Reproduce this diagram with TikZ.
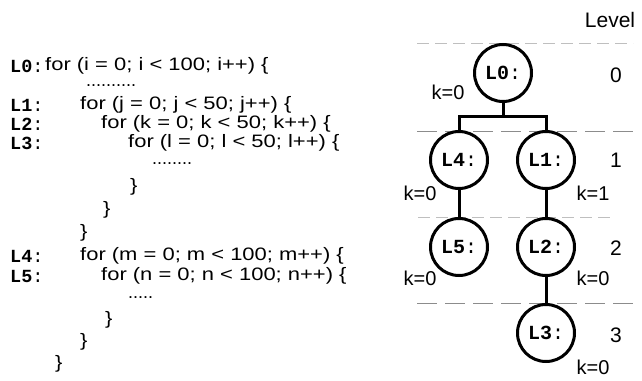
\documentclass[tikz,border=0pt]{standalone}
\usepackage{fontspec}
\setmainfont{Liberation Sans}
\setmonofont{Liberation Mono}
\newfontfamily\widesans[FakeStretch=1.22]{Liberation Sans}
\usetikzlibrary{calc}

\begin{document}
\begin{tikzpicture}[x=1pt,y=-1pt,
  code/.style={anchor=west, inner sep=0pt, font=\widesans\fontsize{18}{20}\selectfont},
  dots/.style={anchor=west, inner sep=0pt, font=\fontsize{18}{20}\selectfont},
  lbl/.style={anchor=west, inner sep=0pt, font=\ttfamily\fontsize{18.5}{20}\selectfont},
  loopnode/.style={circle, draw, line width=3pt, minimum size=57pt, inner sep=0pt,
    font=\ttfamily\fontsize{20}{22}\selectfont},
  kval/.style={inner sep=0pt, font=\fontsize{20}{24}\selectfont},
  lvl/.style={inner sep=0pt, font=\fontsize{21}{24}\selectfont},
  sepline/.style={black!45, line width=0.9pt, dash pattern=on 20pt off 8pt},
  faintline/.style={black!25, line width=0.7pt, dash pattern=on 12pt off 6pt},
  edge/.style={line width=3pt}
]
\useasboundingbox (0,0) rectangle (642,380);
% Loop labels
\foreach \n/\y in {0/66,1/105,2/124,3/143,4/256,5/276} {
  \node[lbl] (lab\n) at (10,\y) {\textbf{L\n}:};
}
% Loop nest code
\node[code] (c0) at (45,66) {for (i = 0; i < 100; i++) \{};
\node[dots] (d1) at (86,86) {..........};
\node[code] (c1) at (80,105) {for (j = 0; j < 50; j++) \{};
\node[code] (c2) at (101,124) {for (k = 0; k < 50; k++) \{};
\node[code] (c3) at (128,143) {for (l = 0; l < 50; l++) \{};
\node[dots] (d2) at (152,164) {........};
\node[code] (b3) at (130,187) {\}};
\node[code] (b2) at (103,210) {\}};
\node[code] (b1) at (80,233) {\}};
\node[code] (c4) at (80,256) {for (m = 0; m < 100; m++) \{};
\node[code] (c5) at (101,276) {for (n = 0; n < 100; n++) \{};
\node[dots] (d3) at (128,298) {.....};
\node[code] (b5) at (105,320) {\}};
\node[code] (b4) at (80,342) {\}};
\node[code] (b0) at (55,364) {\}};
% Level separators
\draw[faintline] (417,43) -- (633,43);
\draw[sepline] (417,131) -- (640,131);
\draw[faintline] (418,217) -- (612,217);
\draw[sepline] (417,303) -- (640,303);
% Loop tree
\node[loopnode] (t0) at (503,73) {\textbf{L0}:};
\node[loopnode] (t4) at (459,160) {\textbf{L4}:};
\node[loopnode] (t1) at (546,160) {\textbf{L1}:};
\node[loopnode] (t5) at (459,247) {\textbf{L5}:};
\node[loopnode] (t2) at (546,247) {\textbf{L2}:};
\node[loopnode] (t3) at (546,333) {\textbf{L3}:};
\coordinate (bar) at ($(t0.south)+(0,13)$);
\draw[edge] (t0) -- (bar) -| (t4);
\draw[edge] (bar) -| (t1);
\draw[edge] (t4) -- (t5);
\draw[edge] (t1) -- (t2);
\draw[edge] (t2) -- (t3);
% Values of k
\node[kval] (k0) at (448,92) {k=0};
\node[kval] (k4) at (420,193) {k=0};
\node[kval] (k1) at (593,193) {k=1};
\node[kval] (k5) at (420,278) {k=0};
\node[kval] (k2) at (593,278) {k=0};
\node[kval] (k3) at (593,367) {k=0};
% Level column
\node[lvl] (lev) at (610,20) {Level};
\foreach \l/\y in {0/75,1/160,2/248,3/335} {
  \node[lvl] (lv\l) at (616,\y) {\l};
}
\end{tikzpicture}
\end{document}
